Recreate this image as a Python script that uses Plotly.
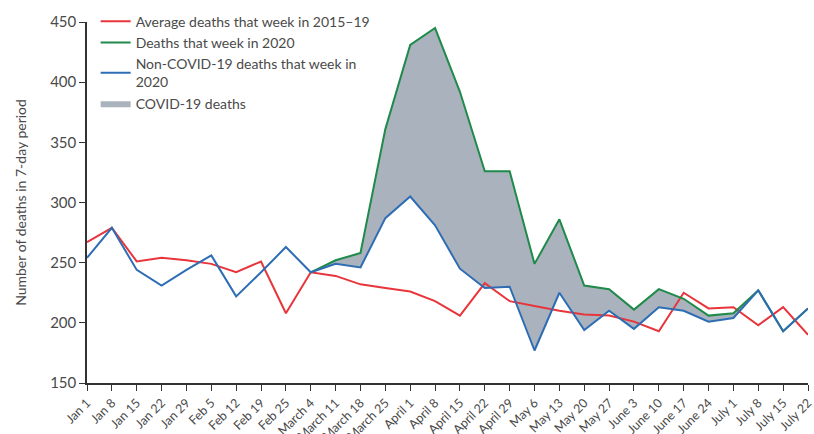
import plotly.graph_objects as go

# Week-starting labels for 2020
weeks = ["Jan 1", "Jan 8", "Jan 15", "Jan 22", "Jan 29", "Feb 5", "Feb 12", "Feb 19", "Feb 25",
         "March 4", "March 11", "March 18", "March 25", "April 1", "April 8", "April 15",
         "April 22", "April 29", "May 6", "May 13", "May 20", "May 27", "June 3", "June 10",
         "June 17", "June 24", "July 1", "July 8", "July 15", "July 22"]

# Average deaths that week in 2015-19
avg_2015_19 = [267, 279, 251, 254, 252, 249, 242, 251, 208, 242, 239, 232, 229, 226, 218, 206,
               233, 218, 214, 210, 207, 206, 201, 193, 225, 212, 213, 198, 213, 190]

# Deaths that week in 2020 (from March 4 onwards)
deaths_2020 = [None] * 9 + [242, 252, 258, 361, 431, 445, 392, 326, 326, 249, 286, 231, 228,
                            211, 228, 220, 206, 208, 227, 193, 212]

# Non-COVID-19 deaths that week in 2020
non_covid_2020 = [254, 279, 244, 231, 244, 256, 222, 242, 263, 242, 249, 246, 287, 305, 281,
                  245, 229, 230, 177, 225, 194, 210, 195, 213, 210, 201, 204, 227, 193, 212]

x = list(range(len(weeks)))
start = 9  # first week with 2020 total deaths

RED = "#e8353b"
GREEN = "#1f8a4a"
BLUE = "#2e6db4"
FILL = "#aab3bd"
TEXT = "#4a4a4a"
FONT = "Lato"

fig = go.Figure()

# Shaded COVID-19 deaths: area between non-COVID and total deaths
fig.add_trace(go.Scatter(x=x[start:], y=non_covid_2020[start:], mode="lines",
                         line=dict(width=0), showlegend=False, hoverinfo="skip"))
fig.add_trace(go.Scatter(x=x[start:], y=deaths_2020[start:], mode="lines",
                         line=dict(width=0), fill="tonexty", fillcolor=FILL,
                         name="COVID-19 deaths", legendrank=4))

fig.add_trace(go.Scatter(x=x, y=avg_2015_19, mode="lines", line=dict(color=RED, width=2),
                         name="Average deaths that week in 2015–19", legendrank=1))
fig.add_trace(go.Scatter(x=x[start:], y=deaths_2020[start:], mode="lines",
                         line=dict(color=GREEN, width=2),
                         name="Deaths that week in 2020", legendrank=2))
fig.add_trace(go.Scatter(x=x, y=non_covid_2020, mode="lines", line=dict(color=BLUE, width=2),
                         name="Non-COVID-19 deaths that week in<br>2020", legendrank=3))

fig.update_layout(
    width=814, height=434,
    margin=dict(l=87, r=6, t=16, b=51),
    paper_bgcolor="white", plot_bgcolor="white",
    font=dict(family=FONT, size=14, color=TEXT),
    legend=dict(x=0.012, y=1.045, xanchor="left", yanchor="top", traceorder="normal",
                bgcolor="rgba(0,0,0,0)", font=dict(size=14, color=TEXT),
                itemwidth=30, tracegroupgap=0),
    xaxis=dict(range=[0, len(weeks) - 1], tickmode="array", tickvals=x, ticktext=weeks,
               tickangle=-45, ticks="outside", ticklen=6, tickcolor="#333",
               showline=True, linecolor="#333", linewidth=1.5, showgrid=False,
               zeroline=False, automargin=False, ticklabeloverflow="allow",
               tickfont=dict(size=12.5, color=TEXT)),
    yaxis=dict(range=[150, 450], tickvals=[150, 200, 250, 300, 350, 400, 450],
               ticks="outside", ticklen=6, tickcolor="#333",
               showline=True, linecolor="#333", linewidth=1.5, showgrid=False,
               zeroline=False, automargin=False, tickfont=dict(size=15, color=TEXT),
               title=dict(text="Number of deaths in 7-day period",
                          font=dict(size=14, color=TEXT), standoff=20)),
)

fig.write_html("out.html")
